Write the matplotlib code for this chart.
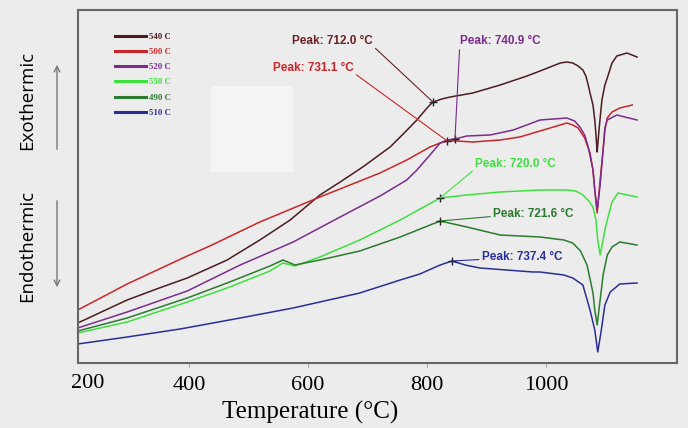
import matplotlib
matplotlib.use("Agg")
import matplotlib.pyplot as plt
from matplotlib.patches import Rectangle

# ---------------- data (temperature in axis units, heat flow in a.u.) ----------------
series_labels = ["540 C", "500 C", "520 C", "550 C", "490 C", "510 C"]
series_colors = ["#4b1c1f", "#c8262a", "#7b2c8c", "#3ee03e", "#2b7a2f", "#2a2f96"]

t_540 = [213, 296, 350, 397, 464, 519, 570, 620, 654, 692, 738, 760, 783, 800, 810, 825, 839,
         877, 923, 968, 990, 1024, 1035, 1045, 1054, 1062, 1067, 1071, 1074, 1079, 1082, 1084,
         1086, 1087, 1089, 1091, 1094, 1099, 1103, 1111, 1119, 1136, 1153]
h_540 = [40, 63, 75, 85, 103, 123, 143, 168, 181, 196, 216, 229, 243, 255, 261, 264, 266,
         270, 278, 287, 292, 300, 301, 300, 297, 293, 287, 278, 270, 258, 243, 228,
         211, 218, 232, 245, 263, 278, 285, 300, 307, 310, 306]

t_500 = [213, 296, 397, 435, 519, 620, 721, 766, 805, 822, 834, 850, 877, 923, 956, 990,
         1035, 1045, 1054, 1065, 1074, 1079, 1082, 1086, 1091, 1096, 1099, 1103, 1111, 1124, 1145]
h_500 = [53, 79, 107, 117, 141, 166, 190, 203, 216, 220, 222, 222, 221, 223, 226, 232,
         240, 238, 235, 225, 210, 193, 173, 150, 183, 213, 233, 245, 251, 255, 258]

t_520 = [213, 296, 397, 486, 575, 654, 721, 766, 783, 805, 822, 835, 847, 867, 906, 945, 990,
         1035, 1048, 1057, 1065, 1071, 1079, 1082, 1086, 1091, 1096, 1099, 1103, 1119, 1153]
h_520 = [35, 51, 72, 98, 121, 146, 167, 183, 193, 208, 220, 223, 224, 227, 228, 233, 243,
         245, 242, 236, 228, 216, 193, 173, 153, 178, 213, 235, 243, 248, 243]

t_550 = [213, 296, 397, 464, 536, 558, 578, 620, 687, 755, 822, 867, 923, 990, 1035, 1050,
         1062, 1072, 1079, 1084, 1087, 1091, 1096, 1099, 1103, 1111, 1121, 1153]
h_550 = [30, 41, 61, 75, 92, 100, 97, 106, 123, 143, 165, 168, 171, 173, 173, 172,
         168, 162, 156, 143, 123, 108, 123, 133, 143, 161, 170, 166]

t_490 = [213, 296, 397, 464, 536, 558, 578, 620, 687, 755, 822, 867, 923, 990, 1030, 1045,
         1058, 1069, 1079, 1082, 1086, 1091, 1096, 1103, 1111, 1124, 1153]
h_490 = [32, 45, 65, 80, 97, 103, 98, 103, 112, 126, 142, 136, 128, 126, 123, 120,
         112, 98, 70, 53, 38, 63, 88, 108, 116, 121, 118]

t_510 = [213, 296, 385, 486, 575, 687, 755, 788, 822, 842, 864, 889, 978, 990, 1030, 1045,
         1062, 1074, 1082, 1087, 1093, 1099, 1108, 1124, 1153]
h_510 = [19, 26, 34, 45, 55, 70, 83, 89, 98, 102, 98, 95, 91, 91, 88, 85,
         78, 53, 33, 11, 33, 58, 71, 79, 80]

# peak markers (position on each curve) and their printed labels
peak_t = [810, 834, 847, 822, 822, 842]
peak_h = [261, 222, 224, 165, 142, 102]
peak_text = ["Peak: 712.0 \u00b0C", "Peak: 731.1 \u00b0C", "Peak: 740.9 \u00b0C",
             "Peak: 720.0 \u00b0C", "Peak: 721.6 \u00b0C", "Peak: 737.4 \u00b0C"]
peak_colors = ["#6a2226", "#c8262a", "#7b2c8c", "#3ee03e", "#2b7a2f", "#2a2f96"]

x_ticks = [400, 600, 800, 1000]

# ---------------- figure ----------------
bg = "#ececec"
fig = plt.figure(figsize=(6.88, 4.28), dpi=100, facecolor=bg)
ax = fig.add_axes([78/688, 1-363/428, 599/688, 353/428], facecolor=bg)

ax.add_patch(Rectangle((0.222, 0.541), 0.137, 0.244, transform=ax.transAxes,
                       facecolor="#f4f4f4", edgecolor="none", zorder=0.5))

all_t = [t_540, t_500, t_520, t_550, t_490, t_510]
all_h = [h_540, h_500, h_520, h_550, h_490, h_510]
for t, h, c, lab in zip(all_t, all_h, series_colors, series_labels):
    ax.plot(t, h, color=c, lw=1.1, label=lab, zorder=2, solid_joinstyle="round")

ax.plot(peak_t, peak_h, ls="none", marker="+", ms=6, mew=1.0, color="#222222", zorder=3)

# annotation text positions (layout) and leader relpos
text_pos = [(573, 316), (541, 289), (855, 316), (881, 193), (911, 143), (892, 100)]
relpos = [(1.0, 0.1), (1.0, 0.1), (0.0, 0.1), (0.0, 0.1), (0.0, 0.3), (0.0, 0.3)]
for i in range(6):
    ax.annotate(peak_text[i], xy=(peak_t[i], peak_h[i]), xytext=text_pos[i],
                textcoords="data", ha="left", va="bottom",
                fontsize=8.5, fontweight="bold", family="Liberation Sans",
                color=peak_colors[i],
                arrowprops=dict(arrowstyle="-", color=peak_colors[i], lw=0.8,
                                shrinkA=0, shrinkB=0, relpos=relpos[i]))

ax.set_xlim(213.4, 1220.2)
ax.set_ylim(0, 353)
ax.set_xticks(x_ticks)
ax.set_xticklabels([str(v) for v in x_ticks], family="Liberation Serif", fontsize=16)
ax.tick_params(axis="x", length=3, color="#aaaaaa", pad=6)
ax.set_yticks([])
for s in ax.spines.values():
    s.set_color("#666666")
    s.set_linewidth(1.5)

# lone "200" label as printed at the left of the axis
fig.text(88/688, 1-383/428, "200", ha="center", va="center",
         family="Liberation Serif", fontsize=16)

fig.text(310/688, 1-412/428, "Temperature (\u00b0C)", ha="center", va="center",
         family="Liberation Serif", fontsize=18)

fig.text(27/688, 1-100/428, "Exothermic", rotation=90, ha="center", va="center",
         family="Open Sans", fontsize=13.5)
fig.text(27/688, 1-246/428, "Endothermic", rotation=90, ha="center", va="center",
         family="Open Sans", fontsize=13.5)
ax.annotate("", xy=(57, 428-62), xytext=(57, 428-152), xycoords="figure pixels",
            textcoords="figure pixels", annotation_clip=False,
            arrowprops=dict(arrowstyle="->", color="#777777", lw=1.0))
ax.annotate("", xy=(57, 428-290), xytext=(57, 428-198), xycoords="figure pixels",
            textcoords="figure pixels", annotation_clip=False,
            arrowprops=dict(arrowstyle="->", color="#777777", lw=1.0))

leg = ax.legend(loc="upper left", bbox_to_anchor=(0.062, 0.935), frameon=False,
                borderaxespad=0, borderpad=0, handlelength=3.5, handletextpad=0.4,
                labelspacing=0.8, labelcolor="linecolor",
                prop={"family": "Liberation Serif", "weight": "bold", "size": 6.3})
for line in leg.get_lines():
    line.set_linewidth(2.2)

fig.savefig("out.png", dpi=100, facecolor=bg)
